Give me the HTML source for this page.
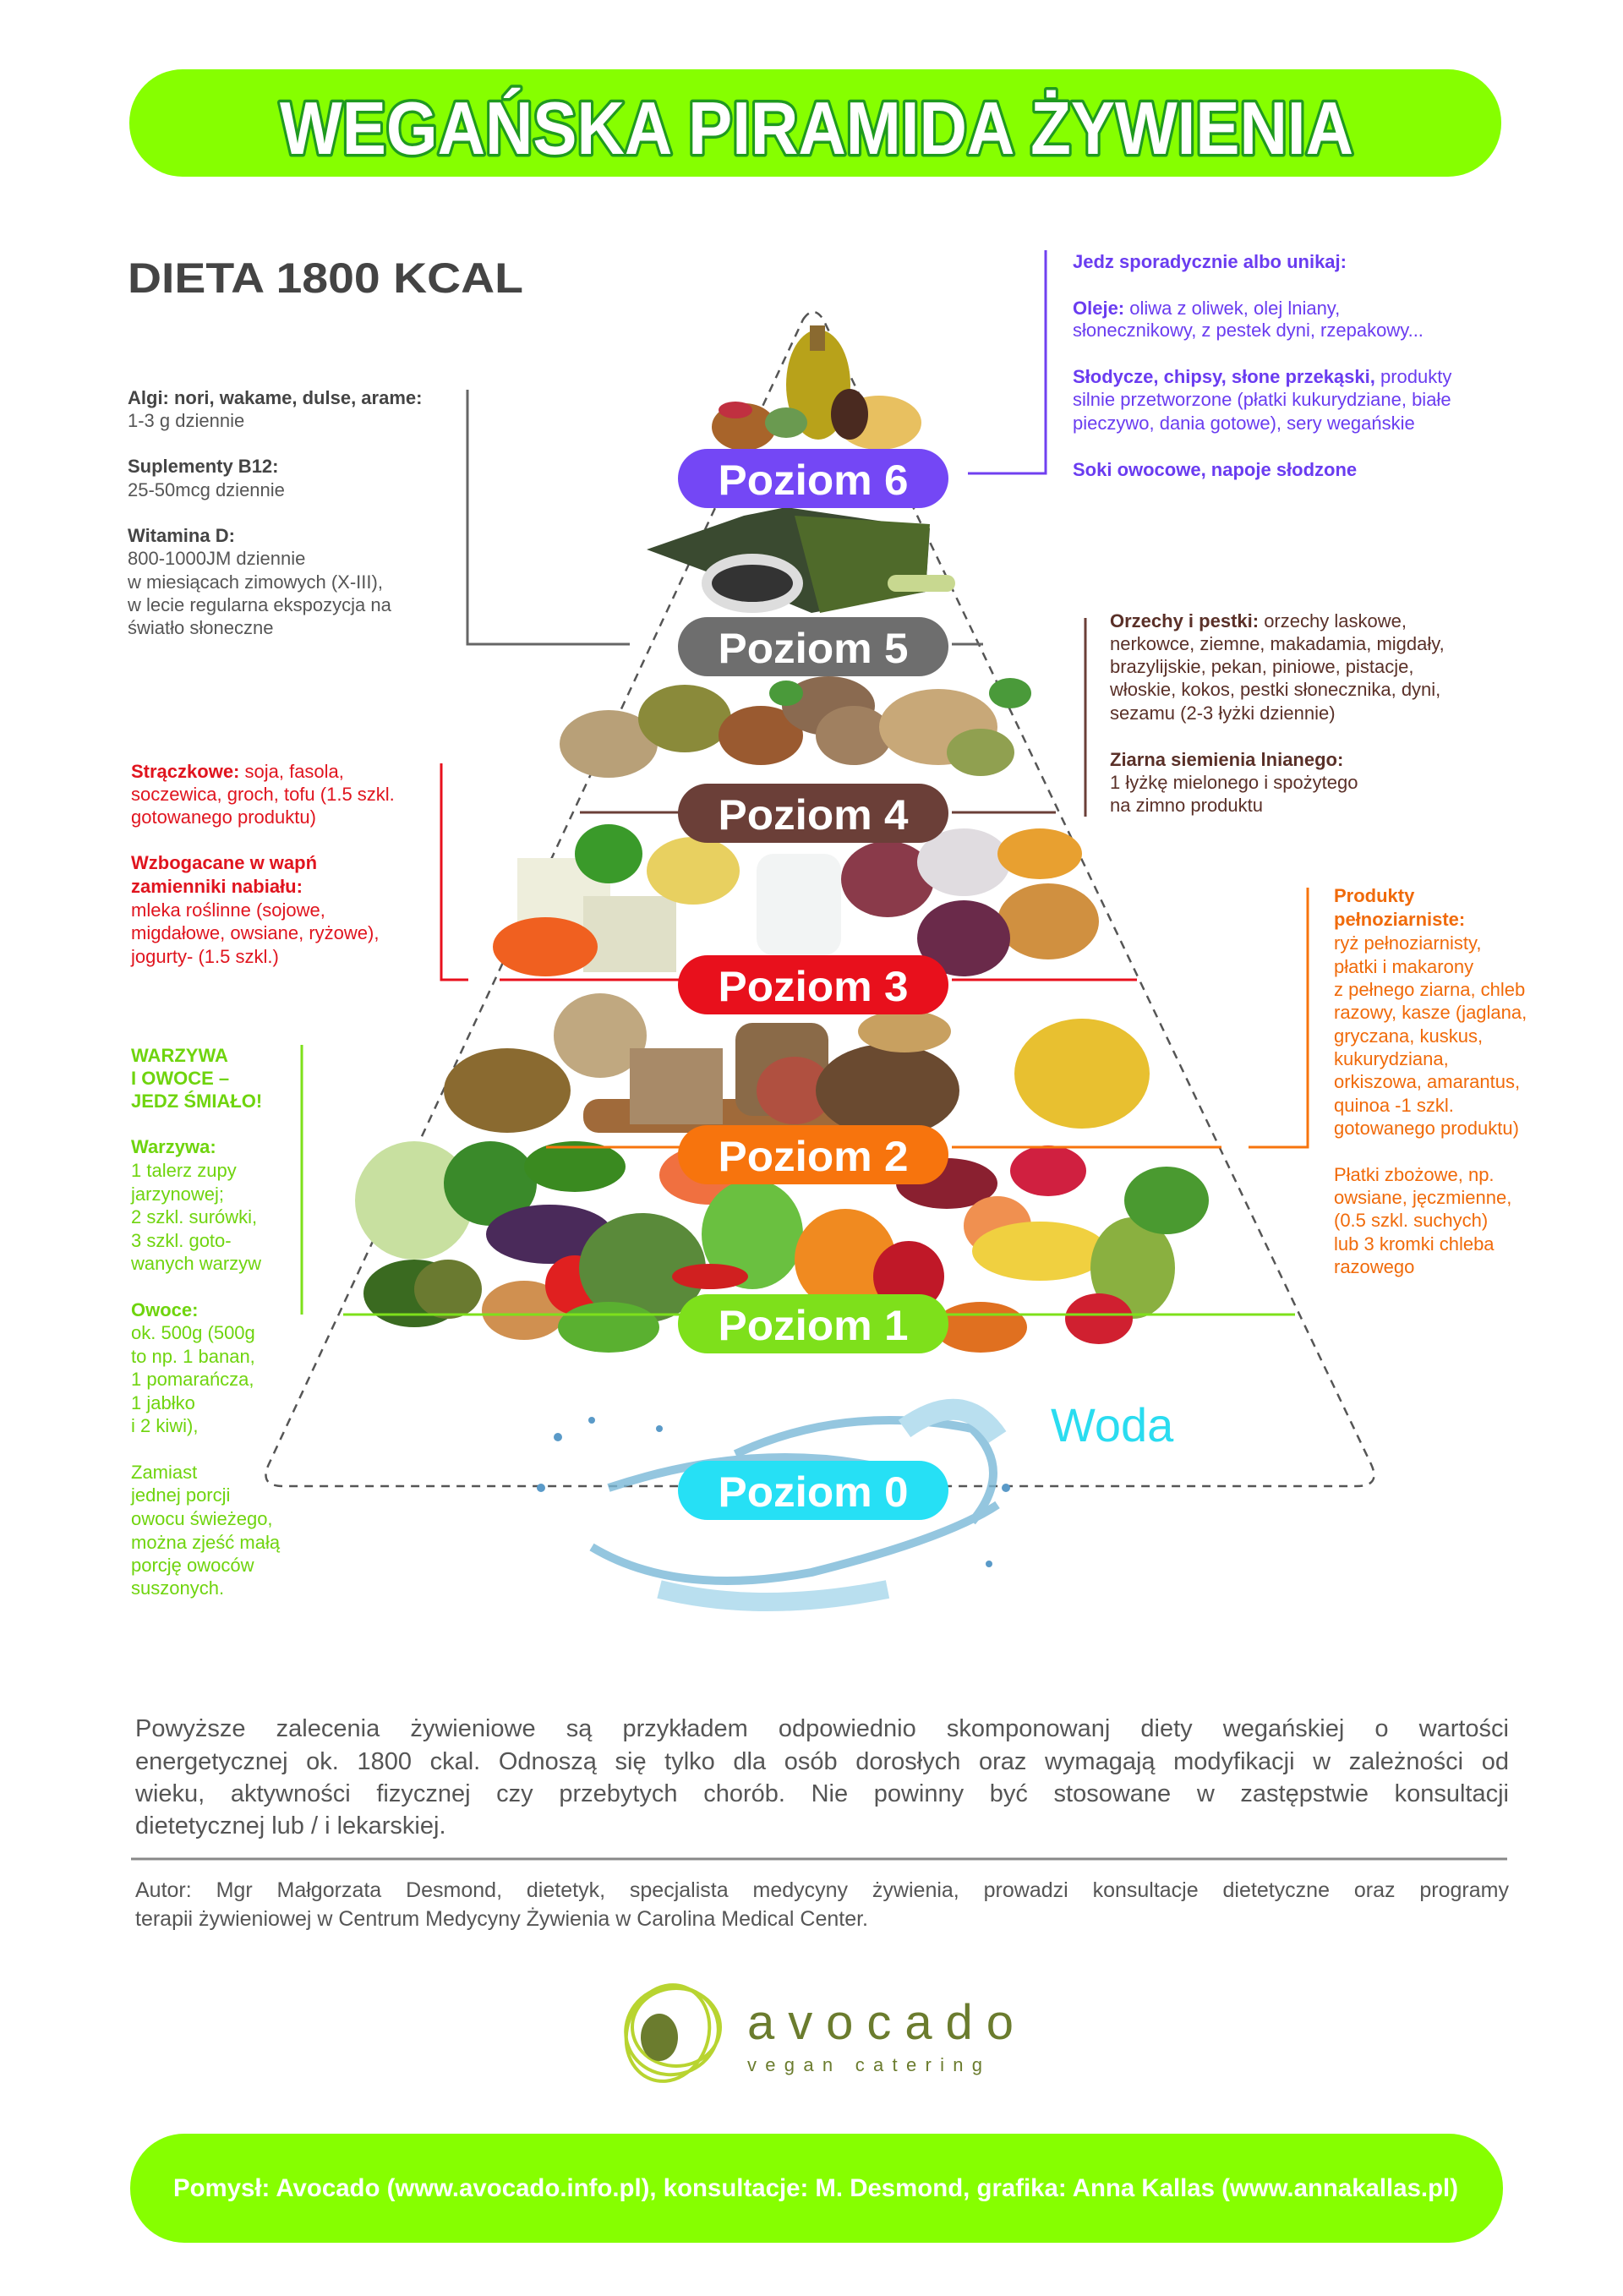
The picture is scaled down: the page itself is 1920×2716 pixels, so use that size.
<!DOCTYPE html>
<html><head><meta charset="utf-8"><style>
html,body{margin:0;padding:0;background:#fff}
body{width:1920px;height:2716px;position:relative;overflow:hidden;font-family:"Liberation Sans",sans-serif}
.p{position:absolute;left:160px;width:1625px;font-size:29px;color:#555;text-align:justify;text-align-last:justify;white-space:nowrap;line-height:38px}
</style></head><body>
<svg width="1920" height="2716" viewBox="0 0 1920 2716" style="position:absolute;left:0;top:0" font-family="Liberation Sans, sans-serif">
<!-- title bar -->
<rect x="153" y="82" width="1623" height="127" rx="63" fill="#86ff00"/>
<text x="331" y="182" font-size="88" font-weight="bold" textLength="1270" lengthAdjust="spacingAndGlyphs" fill="#fff" stroke="#1f9a1f" stroke-width="7" paint-order="stroke" stroke-linejoin="round">WEGAŃSKA PIRAMIDA ŻYWIENIA</text>
<text x="151" y="346" font-size="50" font-weight="bold" fill="#444" textLength="468" lengthAdjust="spacingAndGlyphs">DIETA 1800 KCAL</text>

<!-- dashed pyramid -->
<path d="M950 378 Q962 360 974 378 L1622 1732 Q1634 1758 1605 1758 L335 1758 Q306 1758 318 1732 Z" fill="none" stroke="#555" stroke-width="2.5" stroke-dasharray="10 8"/>

<!-- food blobs level 6 -->
<ellipse cx="968" cy="455" rx="38" ry="65" fill="#b8a21a"/>
<rect x="958" y="385" width="18" height="30" fill="#8a6a30"/>
<ellipse cx="880" cy="505" rx="38" ry="28" fill="#a8642a"/>
<ellipse cx="870" cy="485" rx="20" ry="10" fill="#c03040"/>
<ellipse cx="1040" cy="500" rx="50" ry="32" fill="#e8c060"/>
<ellipse cx="1005" cy="490" rx="22" ry="30" fill="#4a2a20"/>
<ellipse cx="930" cy="500" rx="25" ry="18" fill="#6a9a50"/>
<!-- level 5 seaweed -->
<path d="M765 650 L880 610 L930 600 L1100 625 L1095 700 L960 725 L900 700 Z" fill="#3a4a30"/>
<path d="M940 610 L1100 620 L1095 700 L970 725 Z" fill="#4f6a2a"/>
<ellipse cx="890" cy="690" rx="60" ry="35" fill="#ddd"/>
<ellipse cx="890" cy="690" rx="48" ry="22" fill="#333"/>
<rect x="1050" y="680" width="80" height="20" rx="10" fill="#c8d890"/>
<!-- level 4 nuts -->
<ellipse cx="720" cy="880" rx="58" ry="40" fill="#b8a078"/>
<ellipse cx="810" cy="850" rx="55" ry="40" fill="#8a8a3a"/>
<ellipse cx="900" cy="870" rx="50" ry="35" fill="#9a5a30"/>
<ellipse cx="980" cy="835" rx="55" ry="35" fill="#8a6a50"/>
<ellipse cx="1010" cy="870" rx="45" ry="35" fill="#a08060"/>
<ellipse cx="1110" cy="860" rx="70" ry="45" fill="#c8a878"/>
<ellipse cx="1160" cy="890" rx="40" ry="28" fill="#90a050"/>
<ellipse cx="930" cy="820" rx="20" ry="15" fill="#4a9a3a"/>
<ellipse cx="1195" cy="820" rx="25" ry="18" fill="#4a9a3a"/>
<!-- level 3 -->
<rect x="612" y="1015" width="110" height="80" fill="#eeeedc"/>
<rect x="690" y="1060" width="110" height="90" fill="#e0e0c8"/>
<ellipse cx="645" cy="1120" rx="62" ry="35" fill="#f06020"/>
<ellipse cx="720" cy="1010" rx="40" ry="35" fill="#3a9a2a"/>
<ellipse cx="820" cy="1030" rx="55" ry="40" fill="#e8d060"/>
<rect x="895" y="1010" width="100" height="120" rx="20" fill="#f2f4f4"/>
<ellipse cx="1050" cy="1040" rx="55" ry="45" fill="#8a3a4a"/>
<ellipse cx="1140" cy="1020" rx="55" ry="40" fill="#e0dce0"/>
<ellipse cx="1230" cy="1010" rx="50" ry="30" fill="#e8a030"/>
<ellipse cx="1240" cy="1090" rx="60" ry="45" fill="#d09040"/>
<ellipse cx="1140" cy="1110" rx="55" ry="45" fill="#6a2a4a"/>
<!-- level 2 grains -->
<ellipse cx="600" cy="1290" rx="75" ry="50" fill="#8a6a30"/>
<ellipse cx="710" cy="1225" rx="55" ry="50" fill="#c0a880"/>
<rect x="690" y="1300" width="320" height="40" rx="18" fill="#a06a3a"/>
<rect x="745" y="1240" width="110" height="90" fill="#a88a68"/>
<rect x="870" y="1210" width="110" height="110" rx="20" fill="#8a6a48"/>
<ellipse cx="940" cy="1290" rx="45" ry="40" fill="#b05040"/>
<ellipse cx="1050" cy="1290" rx="85" ry="55" fill="#6a4a30"/>
<ellipse cx="1070" cy="1220" rx="55" ry="25" fill="#c8a060"/>
<ellipse cx="1280" cy="1270" rx="80" ry="65" fill="#e8c030"/>
<!-- level 1 -->
<ellipse cx="490" cy="1420" rx="70" ry="70" fill="#c8e0a0"/>
<ellipse cx="580" cy="1400" rx="55" ry="50" fill="#3a8a2a"/>
<ellipse cx="680" cy="1380" rx="60" ry="30" fill="#3a8a20"/>
<ellipse cx="650" cy="1460" rx="75" ry="35" fill="#4a2a5a"/>
<ellipse cx="490" cy="1530" rx="60" ry="40" fill="#3a6a20"/>
<ellipse cx="530" cy="1525" rx="40" ry="35" fill="#6a7a30"/>
<ellipse cx="620" cy="1550" rx="50" ry="35" fill="#d09050"/>
<ellipse cx="680" cy="1520" rx="35" ry="35" fill="#e02020"/>
<ellipse cx="760" cy="1500" rx="75" ry="65" fill="#5a8a3a"/>
<ellipse cx="720" cy="1570" rx="60" ry="30" fill="#5ab030"/>
<ellipse cx="840" cy="1390" rx="60" ry="35" fill="#f07040"/>
<ellipse cx="890" cy="1460" rx="60" ry="65" fill="#6ac040"/>
<ellipse cx="840" cy="1510" rx="45" ry="15" fill="#d02020"/>
<ellipse cx="1000" cy="1490" rx="60" ry="60" fill="#f08a20"/>
<ellipse cx="1120" cy="1400" rx="60" ry="30" fill="#8a2030"/>
<ellipse cx="1075" cy="1510" rx="42" ry="42" fill="#c01828"/>
<ellipse cx="1180" cy="1450" rx="40" ry="35" fill="#f09050"/>
<ellipse cx="1230" cy="1480" rx="80" ry="35" fill="#f0d040"/>
<ellipse cx="1240" cy="1385" rx="45" ry="30" fill="#d02040"/>
<ellipse cx="1160" cy="1570" rx="55" ry="30" fill="#e07020"/>
<ellipse cx="1340" cy="1500" rx="50" ry="60" fill="#8ab040"/>
<ellipse cx="1380" cy="1420" rx="50" ry="40" fill="#4a9a30"/>
<ellipse cx="1300" cy="1560" rx="40" ry="30" fill="#d02030"/>
<!-- water -->
<g fill="none" stroke="#7ab8d8" stroke-width="10" opacity="0.8">
<path d="M700 1830 Q800 1890 960 1860 Q1120 1820 1180 1780"/>
<path d="M870 1720 Q1000 1660 1150 1690 Q1200 1740 1150 1800"/>
<path d="M720 1760 Q900 1700 1060 1740"/>
<path d="M780 1880 Q900 1910 1050 1880" stroke="#a8d8ec" stroke-width="22"/>
<path d="M1070 1690 Q1140 1640 1180 1700" stroke="#a8d8ec" stroke-width="25"/>
</g>
<g fill="#5a9ac8"><circle cx="660" cy="1700" r="5"/><circle cx="700" cy="1680" r="4"/><circle cx="640" cy="1760" r="5"/><circle cx="780" cy="1690" r="4"/><circle cx="1190" cy="1760" r="5"/><circle cx="1170" cy="1850" r="4"/></g>

<!-- connector lines -->
<g fill="none" stroke-width="3">
<path d="M553 461 V762 H745" stroke="#666"/>
<path d="M1126 762 H1163" stroke="#666"/>
<path d="M1237 296 V560 H1145" stroke="#7040f0"/>
<path d="M1284 731 V966" stroke="#6b3f38"/>
<path d="M686 961 H806 M1126 961 H1249" stroke="#6b3f38"/>
<path d="M522 903 V1159 H554 M591 1159 H806 M1126 1159 H1345" stroke="#e8101c"/>
<path d="M1547 1050 V1357 H1477 M646 1357 H806 M1126 1357 H1445" stroke="#f7740d"/>
<path d="M357 1236 V1555 M406 1555 H1532" stroke="#7ee01b"/>
</g>

<!-- pills -->
<g font-size="50" font-weight="bold" fill="#fff" text-anchor="middle">
<rect x="802" y="531" width="320" height="70" rx="35" fill="#7447f5"/><text x="962" y="585" textLength="225" lengthAdjust="spacingAndGlyphs">Poziom 6</text>
<rect x="802" y="730" width="320" height="70" rx="35" fill="#6e6e6e"/><text x="962" y="784" textLength="225" lengthAdjust="spacingAndGlyphs">Poziom 5</text>
<rect x="802" y="927" width="320" height="70" rx="35" fill="#6b3f38"/><text x="962" y="981" textLength="225" lengthAdjust="spacingAndGlyphs">Poziom 4</text>
<rect x="802" y="1130" width="320" height="70" rx="35" fill="#e8101c"/><text x="962" y="1184" textLength="225" lengthAdjust="spacingAndGlyphs">Poziom 3</text>
<rect x="802" y="1331" width="320" height="70" rx="35" fill="#f7740d"/><text x="962" y="1385" textLength="225" lengthAdjust="spacingAndGlyphs">Poziom 2</text>
<rect x="802" y="1531" width="320" height="70" rx="35" fill="#7ee01b"/><text x="962" y="1585" textLength="225" lengthAdjust="spacingAndGlyphs">Poziom 1</text>
<rect x="802" y="1728" width="320" height="70" rx="35" fill="#26e0f5"/><text x="962" y="1782" textLength="225" lengthAdjust="spacingAndGlyphs">Poziom 0</text>
</g>
<text x="1243" y="1705" font-size="56" fill="#2adcf0">Woda</text>

<!-- left gray block -->
<g font-size="22" fill="#555">
<text x="151" y="478"><tspan font-weight="bold" fill="#444">Algi: nori, wakame, dulse, arame:</tspan></text>
<text x="151" y="505">1-3 g dziennie</text>
<text x="151" y="559" font-weight="bold" fill="#444">Suplementy B12:</text>
<text x="151" y="587">25-50mcg dziennie</text>
<text x="151" y="641" font-weight="bold" fill="#444">Witamina D:</text>
<text x="151" y="668">800-1000JM dziennie</text>
<text x="151" y="696">w miesiącach zimowych (X-III),</text>
<text x="151" y="723">w lecie regularna ekspozycja na</text>
<text x="151" y="750">światło słoneczne</text>
</g>
<!-- purple block -->
<g font-size="22" fill="#6a3cf0">
<text x="1269" y="317" font-weight="bold">Jedz sporadycznie albo unikaj:</text>
<text x="1269" y="372"><tspan font-weight="bold">Oleje:</tspan> oliwa z oliwek, olej lniany,</text>
<text x="1269" y="398">słonecznikowy, z pestek dyni, rzepakowy...</text>
<text x="1269" y="453"><tspan font-weight="bold">Słodycze, chipsy, słone przekąski,</tspan> produkty</text>
<text x="1269" y="480">silnie przetworzone (płatki kukurydziane, białe</text>
<text x="1269" y="508">pieczywo, dania gotowe), sery wegańskie</text>
<text x="1269" y="563" font-weight="bold">Soki owocowe, napoje słodzone</text>
</g>
<!-- brown block -->
<g font-size="22" fill="#5a3028">
<text x="1313" y="742"><tspan font-weight="bold">Orzechy i pestki:</tspan> orzechy laskowe,</text>
<text x="1313" y="769">nerkowce, ziemne, makadamia, migdały,</text>
<text x="1313" y="796">brazylijskie, pekan, piniowe, pistacje,</text>
<text x="1313" y="823">włoskie, kokos, pestki słonecznika, dyni,</text>
<text x="1313" y="851">sezamu (2-3 łyżki dziennie)</text>
<text x="1313" y="906" font-weight="bold">Ziarna siemienia lnianego:</text>
<text x="1313" y="933">1 łyżkę mielonego i spożytego</text>
<text x="1313" y="960">na zimno produktu</text>
</g>
<!-- red block -->
<g font-size="22" fill="#e0141e">
<text x="155" y="920"><tspan font-weight="bold">Strączkowe:</tspan> soja, fasola,</text>
<text x="155" y="947">soczewica, groch, tofu (1.5 szkl.</text>
<text x="155" y="974">gotowanego produktu)</text>
<text x="155" y="1028" font-weight="bold">Wzbogacane w wapń</text>
<text x="155" y="1056" font-weight="bold">zamienniki nabiału:</text>
<text x="155" y="1084">mleka roślinne (sojowe,</text>
<text x="155" y="1111">migdałowe, owsiane, ryżowe),</text>
<text x="155" y="1139">jogurty- (1.5 szkl.)</text>
</g>
<!-- orange block -->
<g font-size="22" fill="#f06a0a">
<text x="1578" y="1067" font-weight="bold">Produkty</text>
<text x="1578" y="1095" font-weight="bold">pełnoziarniste:</text>
<text x="1578" y="1123">ryż pełnoziarnisty,</text>
<text x="1578" y="1151">płatki i makarony</text>
<text x="1578" y="1178">z pełnego ziarna, chleb</text>
<text x="1578" y="1205">razowy, kasze (jaglana,</text>
<text x="1578" y="1233">gryczana, kuskus,</text>
<text x="1578" y="1260">kukurydziana,</text>
<text x="1578" y="1287">orkiszowa, amarantus,</text>
<text x="1578" y="1315">quinoa -1 szkl.</text>
<text x="1578" y="1342">gotowanego produktu)</text>
<text x="1578" y="1397">Płatki zbożowe, np.</text>
<text x="1578" y="1424">owsiane, jęczmienne,</text>
<text x="1578" y="1451">(0.5 szkl. suchych)</text>
<text x="1578" y="1479">lub 3 kromki chleba</text>
<text x="1578" y="1506">razowego</text>
</g>
<!-- green block -->
<g font-size="22" fill="#6fd40e">
<text x="155" y="1256" font-weight="bold">WARZYWA</text>
<text x="155" y="1283" font-weight="bold">I OWOCE –</text>
<text x="155" y="1310" font-weight="bold">JEDZ ŚMIAŁO!</text>
<text x="155" y="1364" font-weight="bold">Warzywa:</text>
<text x="155" y="1392">1 talerz zupy</text>
<text x="155" y="1420">jarzynowej;</text>
<text x="155" y="1447">2 szkl. surówki,</text>
<text x="155" y="1475">3 szkl. goto-</text>
<text x="155" y="1502">wanych warzyw</text>
<text x="155" y="1557" font-weight="bold">Owoce:</text>
<text x="155" y="1584">ok. 500g (500g</text>
<text x="155" y="1612">to np. 1 banan,</text>
<text x="155" y="1639">1 pomarańcza,</text>
<text x="155" y="1667">1 jabłko</text>
<text x="155" y="1694">i 2 kiwi),</text>
<text x="155" y="1749">Zamiast</text>
<text x="155" y="1776">jednej porcji</text>
<text x="155" y="1804">owocu świeżego,</text>
<text x="155" y="1832">można zjeść małą</text>
<text x="155" y="1859">porcję owoców</text>
<text x="155" y="1886">suszonych.</text>
</g>

<!-- separator -->
<line x1="155" y1="2199" x2="1783" y2="2199" stroke="#888" stroke-width="3"/>
<!-- logo -->
<g fill="none" stroke="#b8d430" stroke-width="4">
<ellipse cx="795" cy="2402" rx="55" ry="52" transform="rotate(-15 795 2402)"/>
<ellipse cx="790" cy="2405" rx="48" ry="58" transform="rotate(20 790 2405)"/>
<ellipse cx="800" cy="2398" rx="52" ry="46"/>
</g>
<ellipse cx="780" cy="2410" rx="22" ry="28" fill="#6b7c2e"/>
<text x="884" y="2412" font-size="58" fill="#6b7c2e" textLength="315" lengthAdjust="spacing">avocado</text>
<text x="884" y="2450" font-size="22" fill="#6b7c2e" textLength="278" lengthAdjust="spacing">vegan catering</text>

<!-- footer -->
<rect x="154" y="2524" width="1624" height="129" rx="64" fill="#86ff00"/>
<text x="965" y="2598" font-size="30" font-weight="bold" fill="#fff" text-anchor="middle" textLength="1520" lengthAdjust="spacingAndGlyphs">Pomysł: Avocado (www.avocado.info.pl), konsultacje: M. Desmond, grafika: Anna Kallas (www.annakallas.pl)</text>
</svg>

<div class="p" style="top:2026px">Powyższe zalecenia żywieniowe są przykładem odpowiednio skomponowanj diety wegańskiej o wartości</div>
<div class="p" style="top:2065px">energetycznej ok. 1800 ckal. Odnoszą się tylko dla osób dorosłych oraz wymagają modyfikacji w zależności od</div>
<div class="p" style="top:2103px">wieku, aktywności fizycznej czy przebytych chorób. Nie powinny być stosowane w zastępstwie konsultacji</div>
<div class="p" style="top:2141px;text-align-last:left">dietetycznej lub / i lekarskiej.</div>
<div class="p" style="top:2219px;font-size:25px;line-height:34px">Autor: Mgr Małgorzata Desmond, dietetyk, specjalista medycyny żywienia, prowadzi konsultacje dietetyczne oraz programy</div>
<div class="p" style="top:2253px;font-size:25px;line-height:34px;text-align-last:left">terapii żywieniowej w Centrum Medycyny Żywienia w Carolina Medical Center.</div>
</body></html>
